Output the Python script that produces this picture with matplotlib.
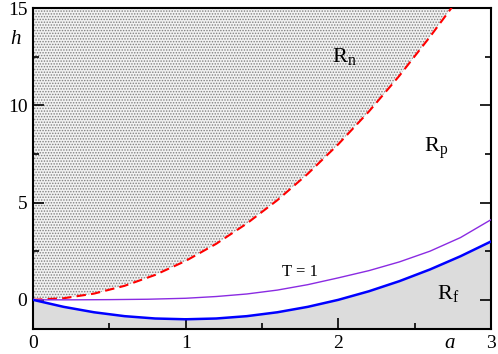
import numpy as np
import matplotlib
matplotlib.use("Agg")
import matplotlib.pyplot as plt
from matplotlib.ticker import MultipleLocator

# values
a_red = [0.0, 0.2, 0.4, 0.6, 0.8, 1.0, 1.2, 1.4, 1.6, 1.8, 2.0, 2.2, 2.4, 2.6, 2.75]
h_red = [0.0, 0.08, 0.32, 0.72, 1.28, 2.0, 2.88, 3.92, 5.12, 6.48, 8.0, 9.68, 11.52, 13.52, 15.1]

a_blue = [0.0, 0.2, 0.4, 0.6, 0.8, 1.0, 1.2, 1.4, 1.6, 1.8, 2.0,
          2.2, 2.4, 2.6, 2.8, 3.0]
h_blue = [0.0, -0.36, -0.64, -0.84, -0.96, -1.0, -0.96, -0.84, -0.64, -0.36, 0.0,
          0.44, 0.96, 1.56, 2.24, 3.0]

a_T1 = [0.0, 0.25, 0.5, 0.75, 1.0, 1.2, 1.4, 1.6, 1.8, 2.0, 2.2, 2.4, 2.6, 2.8, 3.0]
h_T1 = [0.0, 0.0, 0.01, 0.03, 0.08, 0.17, 0.3, 0.5, 0.78, 1.13, 1.5, 1.95, 2.5, 3.2, 4.12]

region_labels = [(2.04, 12.5, r"R$_\mathregular{n}$"),
                 (2.64, 7.8, r"R$_\mathregular{p}$"),
                 (2.72, 0.35, r"R$_\mathregular{f}$")]

plt.rcParams.update({
    "font.family": "serif",
    "font.serif": ["Liberation Serif", "DejaVu Serif"],
    "mathtext.fontset": "custom",
    "mathtext.rm": "Liberation Serif",
    "mathtext.it": "Liberation Serif:italic",
    "hatch.linewidth": 0.7,
    "hatch.color": "#808080",
})

fig = plt.figure(figsize=(4.98, 3.54), dpi=100)
ax = fig.add_axes([0.0663, 0.0706, 0.9197, 0.9068])

YMIN, YMAX = -1.5, 15.0

# stippled region above the dashed curve
ax.fill_between(a_red, h_red, YMAX, facecolor="#f2f2f2", edgecolor="#808080",
                hatch="......", linewidth=0, zorder=1)
# gray region below the blue curve
ax.fill_between(a_blue, YMIN, h_blue, color="#dcdcdc", linewidth=0, zorder=1)

ax.plot(a_red, h_red, color="#ff0000", linestyle=(0, (4.5, 2.5)), linewidth=1.5, zorder=3)
ax.plot(a_T1, h_T1, color="#8a2be2", linewidth=1.0, zorder=3)
ax.plot(a_blue, h_blue, color="#0000ff", linewidth=1.8, zorder=3)

for x, y, s in region_labels:
    ax.text(x, y, s, fontsize=16, ha="center", va="center", zorder=4)
ax.text(1.75, 1.45, "T = 1", fontsize=12, ha="center", va="center", zorder=4)

ax.set_xlim(0, 3)
ax.set_ylim(YMIN, YMAX)
ax.xaxis.set_major_locator(MultipleLocator(1))
ax.xaxis.set_minor_locator(MultipleLocator(0.5))
ax.yaxis.set_major_locator(MultipleLocator(5))
ax.yaxis.set_minor_locator(MultipleLocator(2.5))
ax.tick_params(which="both", direction="in", top=False, right=True, width=1.2,
               labelsize=14)
ax.tick_params(which="major", length=8, pad=4)
ax.tick_params(which="minor", length=4.5)
for sp in ax.spines.values():
    sp.set_linewidth(1.5)

fig.text(15 / 498, 1 - 40 / 354, "h", fontsize=15, style="italic",
         ha="center", va="center")
fig.text(450 / 498, 1 - 344 / 354, "a", fontsize=15, style="italic",
         ha="center", va="center")

fig.savefig("out.png", dpi=100)
